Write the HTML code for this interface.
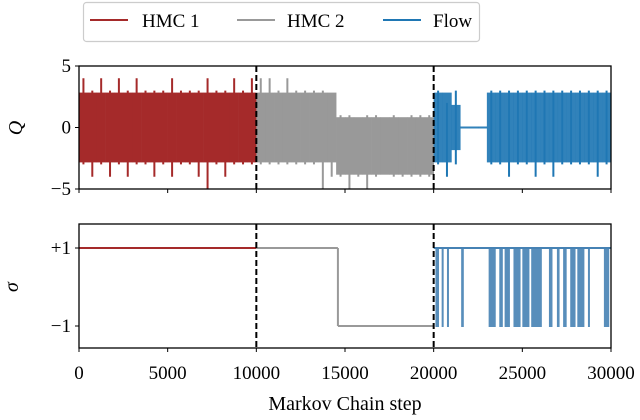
<!DOCTYPE html>
<html><head><meta charset="utf-8"><style>
body{margin:0;background:#fff;}
svg{display:block;font-family:"Liberation Serif","DejaVu Serif",serif;}
</style></head><body>
<svg id="chart" width="640" height="420" viewBox="0 0 640 420">
<g id="topPanel"></g>
<g id="botPanel"></g>
<g>
 <rect x="83.5" y="2.5" width="396" height="39" rx="3" fill="#fff" stroke="#ccc" stroke-width="1.2"/>
 <g><line x1="90" y1="20" x2="128" y2="20" stroke="#a52a2a" stroke-width="2"/><text x="142" y="27" font-size="19">HMC 1</text></g>
 <g><line x1="237" y1="20" x2="275" y2="20" stroke="#999" stroke-width="2"/><text x="287" y="27" font-size="19">HMC 2</text></g>
 <g><line x1="383" y1="20" x2="421" y2="20" stroke="#1f77b4" stroke-width="2"/><text x="433" y="27" font-size="19">Flow</text></g>
</g>
</svg>
<script>
// bins of 500 steps, 60 bins (0..30000)
const binStarts = Array.from({length:60},(_,i)=>i*500);
const coreLo = [-2,-2,-2,-2,-2,-2,-2,-2,-2,-2,-2,-2,-2,-2,-2,-2,-2,-2,-2,-2,
 -2,-2,-2,-2,-2,-2,-2,-2,-2,-3,-3,-3,-3,-3,-3,-3,-3,-3,-3,-3,
 -2,-2,-1,0,0,0,-2,-2,-2,-2,-2,-2,-2,-2,-2,-2,-2,-2,-2,-2];
const coreHi = [2,2,2,2,2,2,2,2,2,2,2,2,2,2,2,2,2,2,2,2,
 2,2,2,2,2,2,2,2,2,0,0,0,0,0,0,0,0,0,0,0,
 2,2,1,0,0,0,2,2,2,2,2,2,2,2,2,2,2,2,2,2];
const spikeLo = [-3,-4,-3,-4,-3,-4,-3,-3,-4,-3,-4,-3,-3,-4,-5,-3,-4,-3,-3,-3,
 -3,-3,-3,-3,-3,-3,-3,-5,-4,-4,-5,-4,-5,-4,-3,-4,-4,-4,-4,-4,
 -3,-4,-3,0,0,0,-3,-3,-4,-3,-3,-4,-3,-4,-3,-3,-3,-3,-4,-3];
const spikeHi = [4,3,4,3,4,3,4,3,3,3,4,3,3,3,4,3,3,4,3,4,
 4,4,3,4,3,3,3,3,2,1,1,0,1,1,0,1,0,1,1,1,
 3,2,3,0,0,0,3,3,3,3,3,3,3,3,3,3,3,3,3,3];
const sigmaHMC = [[0,10000,1],[10000,14600,1],[14600,20000,-1]];
const flowFlipStarts = [20100,20450,20750,21550,23100,23700,24000,24500,25000,25500,26500,26950,27300,27700,28100,28700,29600];
const flowFlipEnds =   [20300,20550,20850,21700,23500,23900,24300,24900,25400,26100,26700,27100,27500,28000,28500,28800,29900];
const xTicks=[0,5000,10000,15000,20000,25000,30000];

const NS="http://www.w3.org/2000/svg";
const X0=79,X1=611;
const x=v=>X0+(X1-X0)*v/30000;
const yq=v=>127.5-v*12.3;
const ys=v=>287-v*39;
function mk(p,tag,at){const e=document.createElementNS(NS,tag);for(const k in at)e.setAttribute(k,at[k]);p.appendChild(e);return e;}
const topG=document.getElementById('topPanel'),botG=document.getElementById('botPanel');
const col=i=>i<20?'#a52a2a':(i<40?'#999':'#1f77b4');

binStarts.forEach((s,i)=>{
  const c=col(i), xa=x(s), xb=x(s+500), xm=(xa+xb)/2;
  const sp=mk(topG,'line',{x1:xm,x2:xm,y1:yq(spikeLo[i]),y2:yq(spikeHi[i]),stroke:c,'stroke-width':2});
  
  
  const r=mk(topG,'rect',{x:xa,width:xb-xa+0.3,y:yq(coreHi[i]+1)+2,height:Math.max(1.5,yq(coreLo[i]-1)-yq(coreHi[i]+1)-4),fill:c,opacity:i>=40?0.92:1});
  if(coreHi[i]===coreLo[i]&&coreHi[i]===0){r.setAttribute('y',yq(0)-1);r.setAttribute('height',2);}
  
  
});
sigmaHMC.forEach((d,i)=>{
  const l=mk(botG,'line',{x1:x(d[0]),x2:x(d[1]),y1:ys(d[2]),y2:ys(d[2]),stroke:i===0?'#a52a2a':'#999','stroke-width':2});
  
  
});
const vj=mk(botG,'line',{x1:x(14600),x2:x(14600),y1:ys(1),y2:ys(-1),stroke:'#999','stroke-width':2});


const fl=mk(botG,'line',{x1:x(20000),x2:x(30000),y1:ys(1),y2:ys(1),stroke:'#4682b4','stroke-width':2});


flowFlipStarts.forEach((s,i)=>{
  const r=mk(botG,'rect',{x:x(s),width:Math.max(2,x(flowFlipEnds[i])-x(s)),y:ys(1),height:ys(-1)-ys(1)+1,fill:'#4682b4',opacity:0.9});
  
  
});

function frame(g,y0,y1,name){
  const f=mk(g,'rect',{x:X0,y:y0,width:X1-X0,height:y1-y0,fill:'none',stroke:'#000','stroke-width':1.3});
  
  
  [10000,20000].forEach(v=>{
    const d=mk(g,'line',{x1:x(v),x2:x(v),y1:y0,y2:y1,stroke:'#000','stroke-width':2,'stroke-dasharray':'6,3'});
    
    
  });
  xTicks.forEach(v=>{mk(g,'line',{x1:x(v),x2:x(v),y1:y1,y2:y1+4,stroke:'#000','stroke-width':1});});
}
frame(topG,66,189,'q-axes-frame');
frame(botG,224,348,'sigma-axes-frame');
[[5,'5'],[0,'0'],[-5,'−5']].forEach(([v,t])=>{
  mk(topG,'line',{x1:X0-4,x2:X0,y1:yq(v),y2:yq(v),stroke:'#000'});
  const tx=mk(topG,'text',{x:X0-8,y:yq(v)+6,'font-size':19,'text-anchor':'end'});tx.textContent=t;
  
  
});
[[1,'+1'],[-1,'−1']].forEach(([v,t])=>{
  mk(botG,'line',{x1:X0-4,x2:X0,y1:ys(v),y2:ys(v),stroke:'#000'});
  const tx=mk(botG,'text',{x:X0-8,y:ys(v)+6,'font-size':19,'text-anchor':'end'});tx.textContent=t;
  
  
});
xTicks.forEach(v=>{
  const tx=mk(botG,'text',{x:x(v),y:379,'font-size':19,'text-anchor':'middle'});tx.textContent=v;
  
  
});
const xl=mk(botG,'text',{x:345,y:410,'font-size':20,'text-anchor':'middle'});xl.textContent='Markov Chain step';


const yl1=mk(topG,'text',{x:22,y:128,'font-size':20,'font-style':'italic','text-anchor':'middle',transform:'rotate(-90 22 128)'});yl1.textContent='Q';


const yl2=mk(botG,'text',{x:18,y:287,'font-size':20,'font-style':'italic','text-anchor':'middle',transform:'rotate(-90 18 287)'});yl2.textContent='σ';


</script>
</body></html>
